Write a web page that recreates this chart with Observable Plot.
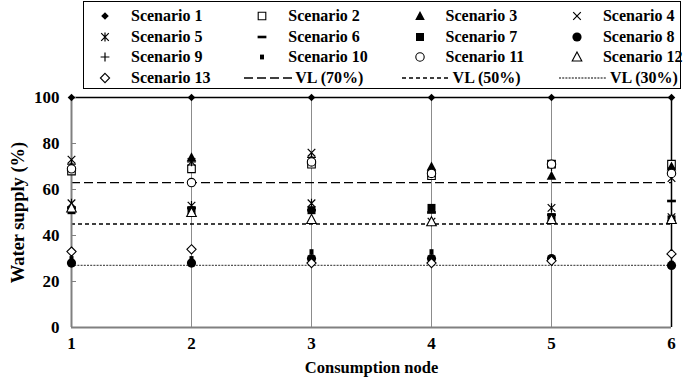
<!DOCTYPE html>
<html><head><meta charset="utf-8">
<script src="https://cdn.jsdelivr.net/npm/d3@7"></script>
<script src="https://cdn.jsdelivr.net/npm/@observablehq/plot@0.6"></script>
<style>
body{margin:0;background:#fff;font-family:"Liberation Serif","Times New Roman",serif;}
#wrap{position:relative;width:691px;height:385px;overflow:hidden;}
#legend{position:absolute;left:83px;top:1px;width:598px;height:88px;border:1px solid #000;box-sizing:border-box;}
#chart{position:absolute;left:0;top:92px;}
.lab{position:absolute;font-weight:bold;font-size:16px;line-height:16px;white-space:nowrap;color:#000;}
.sym{position:absolute;overflow:visible;}
</style>
</head><body>
<div id="wrap"><div id="legend"></div><div id="chart"></div></div>
<script>
// ---- data ----
const nodes = [1, 2, 3, 4, 5, 6];
const yTicks = [0, 20, 40, 60, 80, 100];
const scenarioNames = ["Scenario 1","Scenario 2","Scenario 3","Scenario 4","Scenario 5","Scenario 6","Scenario 7",
  "Scenario 8","Scenario 9","Scenario 10","Scenario 11","Scenario 12","Scenario 13"];
const s1  = [100, 100, 100, 100, 100, 100];
const s2  = [68, 69, 71, 66, 71, 71];
const s3  = [70, 74, 73, 70, 66, 70];
const s4  = [73, 72, 76, 67, 71, 65];
const s5  = [54, 53, 54, 46, 52, 48];
const s6  = [52, 52, 51, 50, 49, 55];
const s7  = [51, 51, 51, 52, 48, 47];
const s8  = [28, 28, 30, 30, 30, 27];
const s9  = [71, 72, 74, 68, 70, 69];
const s10 = [30, 30, 33, 33, 30, 28];
const s11 = [69, 63, 72, 67, 71, 67];
const s12 = [52, 50, 47, 46, 47, 47];
const s13 = [33, 34, 28, 28, 29, 32];
const series = [s1, s2, s3, s4, s5, s6, s7, s8, s9, s10, s11, s12, s13];
const vlNames = ["VL (70%)", "VL (50%)", "VL (30%)"];
const vlValues = [63, 45, 27];
const xLabel = "Consumption node";
const yLabel = "Water supply (%)";

// ---- custom symbols ----
const R = s => Math.sqrt(s / Math.PI);
const symDiamond = {draw(c, s){const r=R(s)*1.15; c.moveTo(0,-r); c.lineTo(r,0); c.lineTo(0,r); c.lineTo(-r,0); c.closePath();}};
const symSquare = {draw(c, s){const r=R(s)*0.95; c.rect(-r,-r,2*r,2*r);}};
const symTriangle = {draw(c, s){const r=R(s)*1.15; c.moveTo(0,-r); c.lineTo(r*0.95,r*0.8); c.lineTo(-r*0.95,r*0.8); c.closePath();}};
const symTimes = {draw(c, s){const r=R(s)*0.95; c.moveTo(-r,-r); c.lineTo(r,r); c.moveTo(r,-r); c.lineTo(-r,r);}};
const symAster = {draw(c, s){const r=R(s)*0.95; c.moveTo(-r,-r); c.lineTo(r,r); c.moveTo(r,-r); c.lineTo(-r,r); c.moveTo(0,-r*1.2); c.lineTo(0,r*1.2);}};
const symDash = {draw(c, s){const r=R(s); c.rect(-r*1.1,-1.3,2.2*r,2.6);}};
const symCircle = {draw(c, s){const r=R(s); c.moveTo(r,0); c.arc(0,0,r,0,2*Math.PI);}};
const symPlus = {draw(c, s){const r=R(s)*1.1; c.moveTo(-r,0); c.lineTo(r,0); c.moveTo(0,-r); c.lineTo(0,r);}};
const symSmallSq = {draw(c, s){const r=R(s); c.rect(-r*0.5,-r*0.6,r*1.0,r*1.2);}};

const F = {fill:"#000", stroke:"none", strokeWidth:0};
const O = {fill:"#fff", stroke:"#000", strokeWidth:1.1};
const L = {fill:"none", stroke:"#000", strokeWidth:1.2};
const styles = [
  {symbol:symDiamond, r:3.3, ...F},
  {symbol:symSquare, r:4, ...O},
  {symbol:symTriangle, r:4.4, ...F},
  {symbol:symTimes, r:4, ...L},
  {symbol:symAster, r:4, ...L},
  {symbol:symDash, r:4, ...F},
  {symbol:symSquare, r:4.2, ...F},
  {symbol:symCircle, r:4.6, ...F},
  {symbol:symPlus, r:4, ...L},
  {symbol:symSmallSq, r:4, ...F},
  {symbol:symCircle, r:4.2, ...O},
  {symbol:symTriangle, r:4.4, ...O},
  {symbol:symDiamond, r:4, ...O}
];
const vlDash = ["9,4", "4,3", "2,1.2"];
const vlStroke = ["#000", "#000", "#555"];

// ---- chart ----
const marks = [];
marks.push(Plot.ruleX(nodes.slice(1, -1), {stroke:"#8c8c8c", strokeWidth:1}));
vlValues.forEach((v, i) => marks.push(Plot.ruleY([v], {stroke:vlStroke[i], strokeWidth:1.3, strokeDasharray:vlDash[i]})));
marks.push(Plot.ruleY([yTicks[yTicks.length-1]], {stroke:"#000", strokeWidth:1.5}));
marks.push(Plot.ruleX([nodes[nodes.length-1]], {stroke:"#000", strokeWidth:1.5}));
marks.push(Plot.ruleX([nodes[0]], {stroke:"#808080", strokeWidth:2}));
marks.push(Plot.ruleY([yTicks[0]], {stroke:"#808080", strokeWidth:2}));
marks.push(Plot.axisY({ticks:yTicks, tickSize:5, dx:5, tickFormat:() => "", label:null, stroke:"#808080", strokeWidth:1}));
marks.push(Plot.axisY({ticks:yTicks, tickSize:0, tickPadding:12, label:null, fontSize:17, fontWeight:"bold"}));
marks.push(Plot.axisX({ticks:nodes, tickSize:0, tickPadding:9, tickFormat:d => String(d), label:null, fontSize:17, fontWeight:"bold"}));
marks.push(Plot.text([yLabel], {frameAnchor:"left", textAnchor:"middle", lineAnchor:"middle", rotate:-90, dx:-53, fontSize:18.5, fontWeight:"bold"}));
marks.push(Plot.text([xLabel], {frameAnchor:"bottom", textAnchor:"middle", lineAnchor:"middle", dy:40, fontSize:16.5, fontWeight:"bold"}));
series.forEach((vals, i) => {
  const st = styles[i];
  marks.push(Plot.dot(nodes.map((n, j) => ({x:n, y:vals[j]})), {x:"x", y:"y", symbol:st.symbol, r:st.r, fill:st.fill, stroke:st.stroke, strokeWidth:st.strokeWidth}));
});

const chart = Plot.plot({
  width:691, height:293,
  marginTop:5, marginLeft:71, marginRight:20, marginBottom:58,
  x:{domain:[nodes[0], nodes[nodes.length-1]]},
  y:{domain:[yTicks[0], yTicks[yTicks.length-1]]},
  style:{fontFamily:'"Liberation Serif","Times New Roman",serif', color:"#000", background:"#fff", overflow:"visible"},
  marks
});
document.getElementById("chart").appendChild(chart);

// ---- legend ----
const legend = document.getElementById("legend");
const legLeft = 84, legTop = 2;
const colX = c => 105 + 157.3 * c;
const rowY = r => 16 + 20.7 * r;
const NS = "http://www.w3.org/2000/svg";
function addLabel(text, x, y){
  const d = document.createElement("div");
  d.className = "lab"; d.textContent = text;
  d.style.left = (x - legLeft) + "px"; d.style.top = (y - legTop - 8) + "px";
  legend.appendChild(d);
}
scenarioNames.forEach((name, i) => {
  const c = i % 4, r = Math.floor(i / 4), cx = colX(c), cy = rowY(r), st = styles[i];
  const svg = document.createElementNS(NS, "svg");
  svg.setAttribute("class", "sym"); svg.setAttribute("width", 20); svg.setAttribute("height", 20);
  svg.style.left = (cx - legLeft - 10) + "px"; svg.style.top = (cy - legTop - 10) + "px";
  const p = document.createElementNS(NS, "path");
  p.setAttribute("d", d3.symbol(st.symbol, st.r * st.r * Math.PI)());
  p.setAttribute("transform", "translate(10,10)");
  p.setAttribute("fill", st.fill); p.setAttribute("stroke", st.stroke); p.setAttribute("stroke-width", st.strokeWidth);
  svg.appendChild(p); legend.appendChild(svg);
  addLabel(name, cx + 26, cy);
});
vlNames.forEach((name, k) => {
  const i = scenarioNames.length + k;
  const c = i % 4, r = Math.floor(i / 4), cx = colX(c), cy = rowY(r);
  const svg = document.createElementNS(NS, "svg");
  svg.setAttribute("class", "sym"); svg.setAttribute("width", 52); svg.setAttribute("height", 6);
  svg.style.left = (cx - legLeft - 18) + "px"; svg.style.top = (cy - legTop - 3) + "px";
  const ln = document.createElementNS(NS, "line");
  ln.setAttribute("x1", 0); ln.setAttribute("x2", 48); ln.setAttribute("y1", 3); ln.setAttribute("y2", 3);
  ln.setAttribute("stroke", vlStroke[k]); ln.setAttribute("stroke-width", 1.3); ln.setAttribute("stroke-dasharray", vlDash[k]);
  svg.appendChild(ln); legend.appendChild(svg);
  addLabel(name, cx + 33, cy);
});
</script>
</body></html>
